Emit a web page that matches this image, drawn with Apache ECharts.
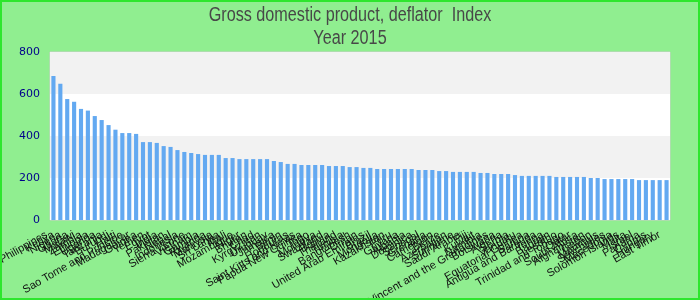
<!DOCTYPE html>
<html>
<head>
<meta charset="utf-8">
<script src="https://cdn.jsdelivr.net/npm/echarts@6/dist/echarts.min.js"></script>
<style>
html,body{margin:0;padding:0;}
#c{width:696px;height:296px;border:2px solid #2ee62e;background:#90ee90;}
</style>
</head>
<body>
<div id="c"></div>
<script>
const titleText = "Gross domestic product, deflator  Index";
const subtitleText = "Year 2015";
const yTicks = [0, 200, 400, 600, 800];
const countries = [
"Philippines","Kenya","Nigeria","Ghana","Malawi","Zambia","Ethiopia","Uganda","Tanzania","Burundi",
"Haiti","Sao Tome and Principe","Madagascar","Guinea","Yemen","Egypt","India","Pakistan","Nepal","Indonesia",
"Sierra Leone","Vietnam","Gambia","Rwanda","Malaysia","Sri Lanka","Mali","Mozambique","Niger","Bhutan",
"Chad","Kyrgyzstan","Uruguay","Jamaica","Benin","Honduras","Saint Kitts and Nevis","Papua New Guinea","Togo","Moldova",
"Swaziland","Bolivia","Thailand","Tunisia","Bangladesh","Oman","United Arab Emirates","Brazil","Mongolia","Kazakhstan",
"Peru","Guyana","Albania","Dominica","Senegal","Grenada","Cameroon","Belize","Azerbaijan","Suriname",
"Saudi Arabia","Fiji","Kuwait","Namibia","Saint Vincent and the Grenadines","Botswana","Algeria","Serbia","Vanuatu","Equatorial Guinea",
"Samoa","Antigua and Barbuda","Tonga","Bahrain","Lesotho","Trinidad and Tobago","Qatar","South Africa","Afghanistan","Gabon",
"Mauritius","Seychelles","Macedonia","Solomon Islands","Malta","Israel","Panama","Cyprus","Hungary","East Timor"
];
const values = [
686,649,576,563,529,521,495,476,452,430,
414,414,410,371,371,367,352,348,333,324,
319,314,310,310,310,295,295,290,290,290,
290,290,281,276,267,267,262,262,262,262,
257,257,257,252,252,248,248,243,243,243,
243,243,243,238,238,238,233,233,229,229,
229,229,224,224,219,219,219,214,210,210,
210,210,210,205,205,205,205,205,200,200,
195,195,195,195,195,190,190,190,190,190
];

const chart = echarts.init(document.getElementById('c'), null, {renderer:'canvas'});
chart.setOption({
  animation:false,
  backgroundColor:'#90ee90',
  graphic:[
    {type:'text', x:348, y:13, scaleX:0.81, silent:true,
     style:{text:titleText, textAlign:'center', textVerticalAlign:'middle', font:'20px "Liberation Sans", Arial, sans-serif', fill:'#484848'}},
    {type:'text', x:348, y:36, scaleX:0.81, silent:true,
     style:{text:subtitleText, textAlign:'center', textVerticalAlign:'middle', font:'20px "Liberation Sans", Arial, sans-serif', fill:'#484848'}}
  ],
  grid:{left:48,right:28,top:50,bottom:78,show:true,backgroundColor:'#fff',borderColor:'#ccc',borderWidth:1,outerBoundsMode:'none'},
  xAxis:{
    type:'category', data:countries,
    axisTick:{show:false}, axisLine:{show:false},
    axisLabel:{interval:0, rotate:30, fontSize:11, color:'#111', fontFamily:'Liberation Sans, Arial, sans-serif', margin:10, padding:[0,8,0,0]}
  },
  yAxis:{
    type:'value', min:yTicks[0], max:yTicks[yTicks.length-1], interval:200,
    axisLine:{show:false}, axisTick:{show:false},
    splitLine:{show:false},
    splitArea:{show:true, areaStyle:{color:['#ffffff','#f2f2f2']}},
    axisLabel:{fontSize:11, color:'#00008b', fontFamily:'DejaVu Sans, Verdana, sans-serif', margin:10}
  },
  series:[{type:'bar', data:values, barWidth:'60%', itemStyle:{color:'#63a9f1'}}]
});
</script>
</body>
</html>
